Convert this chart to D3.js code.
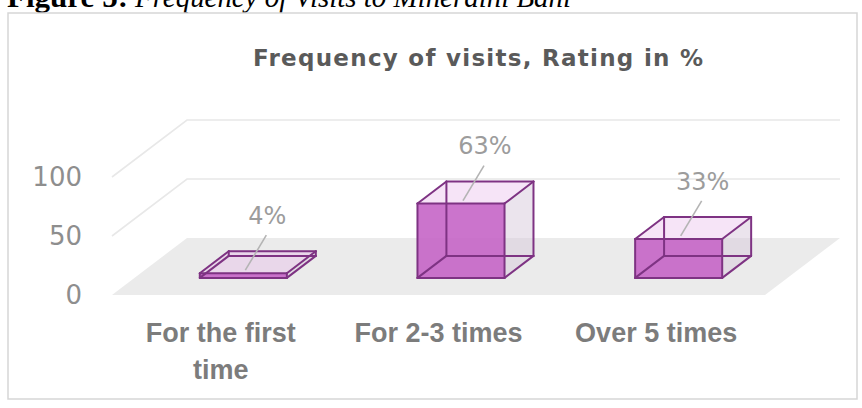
<!DOCTYPE html>
<html>
<head>
<meta charset="utf-8">
<script src="https://cdn.jsdelivr.net/npm/d3@7/dist/d3.min.js"></script>
<style>
  html, body { margin: 0; padding: 0; background: #fff; }
  svg { display: block; }
</style>
</head>
<body>
<svg id="chart" width="862" height="408"></svg>
<script>
// ---- data ----
const categories = ["For the first time", "For 2-3 times", "Over 5 times"];
const ratings = [4, 63, 33];
const valueLabels = ["4%", "63%", "33%"];
const yTicks = [0, 50, 100];
const chartTitle = "Frequency of visits, Rating in %";
const captionLead = "Figure 5:";
const captionText = "Frequency of Visits to Mineralni Bani";

// ---- layout ----
const svg = d3.select("#chart");
const floorLeft = 112, floorRight = 765;   // front edge of the floor
const baseY = 295, topY = 177;             // value 0 and 100 on the front plane
const DX = 75, DY = -57;                   // oblique offset for full depth
const barFront = 0.3, barBack = 0.686;     // depth slot occupied by the boxes

const x = d3.scaleBand()
  .domain(categories)
  .range([floorLeft, floorRight])
  .paddingInner(0.6)
  .paddingOuter(0.3);
const y = d3.scaleLinear().domain([0, 100]).range([baseY, topY]);
const proj = (px, v, t) => [px + t * DX, y(v) + t * DY];
const pts = arr => arr.map(p => p.join(",")).join(" ");

// ---- caption above the chart frame (clipped by page top) ----
svg.append("text")
  .attr("x", 7).attr("y", 7)
  .attr("font-family", "Liberation Serif, Times New Roman, serif")
  .attr("font-size", 30).attr("font-weight", "bold")
  .attr("fill", "#000")
  .attr("textLength", 121).attr("lengthAdjust", "spacingAndGlyphs")
  .text(captionLead);
svg.append("text")
  .attr("x", 135).attr("y", 7)
  .attr("font-family", "Liberation Serif, Times New Roman, serif")
  .attr("font-size", 30).attr("font-style", "italic")
  .attr("fill", "#000")
  .attr("textLength", 436).attr("lengthAdjust", "spacingAndGlyphs")
  .text(captionText);

// ---- chart frame ----
svg.append("rect")
  .attr("x", 8).attr("y", 13)
  .attr("width", 849).attr("height", 386)
  .attr("fill", "#fff")
  .attr("stroke", "#d6d6d6").attr("stroke-width", 1.5);

// ---- title ----
svg.append("text")
  .attr("x", 478).attr("y", 66)
  .attr("text-anchor", "middle")
  .attr("font-family", "DejaVu Sans, sans-serif")
  .attr("font-size", 23).attr("font-weight", "bold")
  .attr("fill", "#5a5a5a")
  .attr("textLength", 450).attr("lengthAdjust", "spacing")
  .text(chartTitle);

// ---- floor ----
svg.append("polygon")
  .attr("points", pts([
    proj(floorLeft, 0, 0), proj(floorLeft, 0, 1),
    proj(floorRight, 0, 1), proj(floorRight, 0, 0)
  ]))
  .attr("fill", "#ebebeb");

// ---- gridlines on side and back walls ----
const grid = svg.append("g")
  .attr("stroke", "#e8e8e8").attr("stroke-width", 1.6).attr("fill", "none");
yTicks.filter(v => v > 0).forEach(v => {
  grid.append("polyline").attr("points", pts([
    proj(floorLeft, v, 0), proj(floorLeft, v, 1), proj(floorRight, v, 1)
  ]));
});

// ---- value axis ----
const yAxis = svg.append("g")
  .attr("transform", `translate(${floorLeft},0)`)
  .call(d3.axisLeft(y).tickValues(yTicks).tickSize(0).tickPadding(30));
yAxis.select(".domain").remove();
yAxis.selectAll("text")
  .attr("font-family", "DejaVu Sans, sans-serif")
  .attr("font-size", 26)
  .attr("fill", "#8e8e8e");

// ---- boxes ----
const bw = x.bandwidth();
const bars = svg.append("g");
categories.forEach((c, i) => {
  const v = ratings[i];
  const x0 = x(c), x1 = x0 + bw;
  const FBL = proj(x0, 0, barFront), FBR = proj(x1, 0, barFront);
  const FTL = proj(x0, v, barFront), FTR = proj(x1, v, barFront);
  const BBL = proj(x0, 0, barBack), BBR = proj(x1, 0, barBack);
  const BTL = proj(x0, v, barBack), BTR = proj(x1, v, barBack);
  const g = bars.append("g");
  // right side
  g.append("polygon").attr("points", pts([FBR, BBR, BTR, FTR]))
    .attr("fill", "#d8cadb").attr("fill-opacity", 0.5);
  // top
  g.append("polygon").attr("points", pts([FTL, FTR, BTR, BTL]))
    .attr("fill", "#e7b9ea").attr("fill-opacity", 0.38);
  // front
  g.append("polygon").attr("points", pts([FBL, FBR, FTR, FTL]))
    .attr("fill", "#c565c7").attr("fill-opacity", 0.9);
  // wireframe edges (all twelve, shown through the translucent faces)
  const edges = [
    [FBL, FBR], [FBR, FTR], [FTR, FTL], [FTL, FBL],
    [BBL, BBR], [BBR, BTR], [BTR, BTL], [BTL, BBL],
    [FBL, BBL], [FBR, BBR], [FTR, BTR], [FTL, BTL]
  ];
  edges.forEach(([a, b]) => {
    g.append("line")
      .attr("x1", a[0]).attr("y1", a[1]).attr("x2", b[0]).attr("y2", b[1])
      .attr("stroke", "#7e3383").attr("stroke-width", 2)
      .attr("stroke-linecap", "round");
  });
});

// ---- value labels with leader lines ----
const labels = svg.append("g");
categories.forEach((c, i) => {
  const tf = proj(x(c) + bw / 2, ratings[i], barFront);
  const lx = tf[0] + 24, ly = tf[1] - 58;
  labels.append("line")
    .attr("x1", lx - 1).attr("y1", ly + 20)
    .attr("x2", tf[0] + 2).attr("y2", tf[1] - 3)
    .attr("stroke", "#b4b4b4").attr("stroke-width", 1.6);
  labels.append("text")
    .attr("x", lx).attr("y", ly).attr("dy", "0.36em")
    .attr("text-anchor", "middle")
    .attr("font-family", "DejaVu Sans, sans-serif")
    .attr("font-size", 24)
    .attr("fill", "#9c9c9c")
    .text(valueLabels[i]);
});

// ---- category labels along the front of the floor ----
const catG = svg.append("g");
categories.forEach(c => {
  const cx = x(c) + bw / 2;
  const t = catG.append("text")
    .attr("x", cx).attr("y", 342)
    .attr("text-anchor", "middle")
    .attr("font-family", "Liberation Sans, Arial, sans-serif")
    .attr("font-size", 27).attr("font-weight", "bold")
    .attr("fill", "#7c7c7c");
  // wrap words into lines no wider than the band step
  const words = c.split(" ");
  let line = [], lineNo = 0;
  let tspan = t.append("tspan").attr("x", cx).attr("dy", 0);
  words.forEach(w => {
    line.push(w);
    tspan.text(line.join(" "));
    if (tspan.node().getComputedTextLength() > 170 && line.length > 1) {
      line.pop();
      tspan.text(line.join(" "));
      line = [w];
      lineNo++;
      tspan = t.append("tspan").attr("x", cx).attr("dy", 37).text(w);
    }
  });
});
</script>
</body>
</html>
